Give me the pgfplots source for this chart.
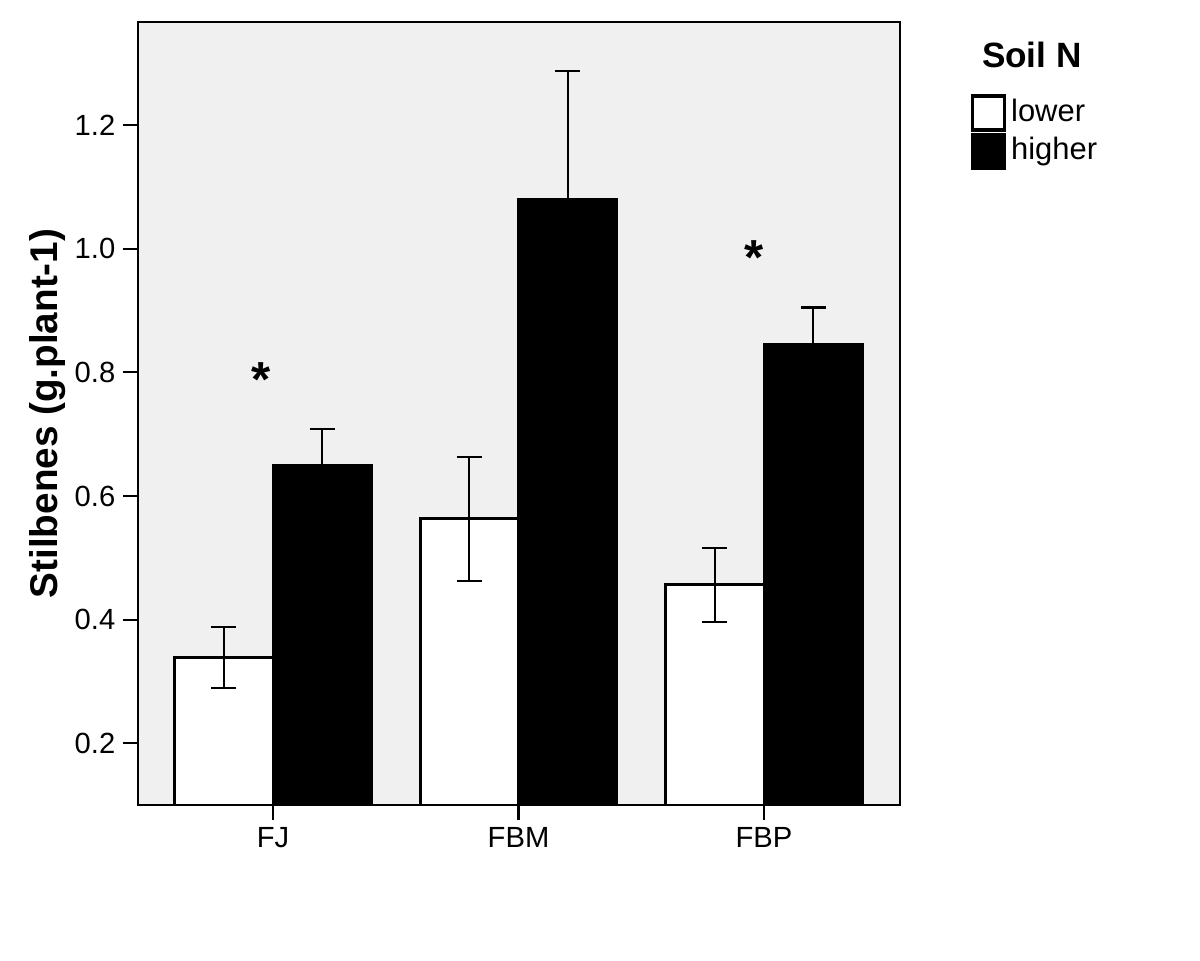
\documentclass[border=0pt]{standalone}
\usepackage{fontspec}
\setmainfont{Liberation Sans}
\usepackage{pgfplots}
\pgfplotsset{compat=1.18}
\definecolor{bgc}{RGB}{240,240,240}
\begin{document}
\begin{tikzpicture}
\useasboundingbox (0,0) rectangle (12cm,9.61cm);
\begin{axis}[
  at={(1.38cm,1.56cm)}, anchor=south west,
  scale only axis, width=7.62cm, height=7.83cm,
  xmin=-0.55, xmax=2.554, ymin=0.1, ymax=1.367,
  clip=false,
  axis background/.style={fill=bgc},
  axis line style={black, line width=0.6pt},
  xtick={0,1,2}, xticklabels={FJ,FBM,FBP},
  ytick={0.2,0.4,0.6,0.8,1.0,1.2},
  yticklabel style={/pgf/number format/.cd, fixed, fixed zerofill, precision=1, assume math mode=true},
  tick align=outside, xtick pos=bottom, ytick pos=left,
  major tick length=0.15cm,
  tick style={black, line width=0.6pt},
  tick label style={font=\fontsize{8.3}{10}\selectfont, inner sep=2pt},
  ylabel={\textbf{Stilbenes (g.plant-1)}},
  ylabel style={at={(axis description cs:-0.118,0.5)}, anchor=center, font=\fontsize{11}{13}\selectfont},
  ybar=0pt, bar width=0.4,
  legend image code/.code={\draw[#1, line width=0.9pt] (0cm,-0.17cm) rectangle (0.32cm,0.17cm);},
  legend style={at={(1.0919,0.909)}, anchor=north west, draw=none, fill=none, inner sep=0pt,
    font=\fontsize{8.8}{10}\selectfont, row sep=0pt,
    nodes={inner sep=1.5pt}},
  legend cell align=left,
  error bars/y dir=both, error bars/y explicit,
  error bars/error bar style={black, line width=0.6pt},
  error bars/error mark options={rotate=90, black, line width=0.6pt, mark size=0.125cm},
]
\addplot[fill=white, draw=black, line width=0.85pt, bar shift=-0.2] coordinates {
  (0,0.339) +- (0,0.049)
  (1,0.563) +- (0,0.100)
  (2,0.456) +- (0,0.060)
};
\addlegendentry{lower}
\addplot[fill=black, draw=black, line width=0.85pt, bar shift=0.2] coordinates {
  (0,0.649) +- (0,0.060)
  (1,1.080) +- (0,0.207)
  (2,0.845) +- (0,0.060)
};
\addlegendentry{higher}
\node[font=\bfseries\fontsize{14}{16}\selectfont] at (axis cs:-0.05,0.788) {*};
\node[font=\bfseries\fontsize{14}{16}\selectfont] at (axis cs:1.96,0.986) {*};
\node[font=\bfseries\fontsize{10}{12}\selectfont] at (rel axis cs:1.173,0.958) {Soil N};
\end{axis}
\end{tikzpicture}
\end{document}
